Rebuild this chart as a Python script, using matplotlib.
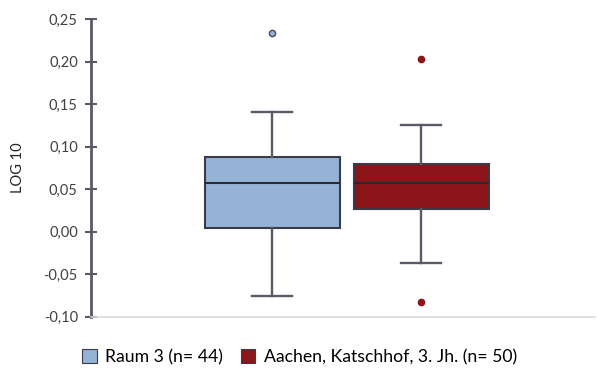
import matplotlib.pyplot as plt
from matplotlib.patches import Patch

plt.rcParams['font.family'] = ['Lato', 'DejaVu Sans']

groups = ['Raum 3 (n= 44)', 'Aachen, Katschhof, 3. Jh. (n= 50)']
q1 = [0.004, 0.027]
med = [0.057, 0.057]
q3 = [0.088, 0.080]
whislo = [-0.076, -0.037]
whishi = [0.141, 0.125]
fliers = [[0.234], [0.203, -0.083]]
colors = ['#95b3d7', '#8b1519']

yticks = [-0.10, -0.05, 0.00, 0.05, 0.10, 0.15, 0.20, 0.25]

stats = []
for i in range(len(groups)):
    stats.append(dict(q1=q1[i], med=med[i], q3=q3[i], whislo=whislo[i],
                      whishi=whishi[i], fliers=fliers[i], label=groups[i]))

fig = plt.figure(figsize=(5.97, 3.71), dpi=100)
ax = fig.add_axes([0.1524, 0.1464, 0.845, 0.8024])

edge = '#3b3b48'
bp = ax.bxp(stats, positions=[1, 2], widths=0.906, patch_artist=True,
            boxprops=dict(edgecolor=edge, linewidth=1.5),
            medianprops=dict(color='#2a2a33', linewidth=1.5),
            whiskerprops=dict(color='#5a5a66', linewidth=1.7),
            capprops=dict(color='#5a5a66', linewidth=1.7),
            capwidths=0.27)
for box, c in zip(bp['boxes'], colors):
    box.set_facecolor(c)
for fl, c in zip(bp['fliers'], colors):
    fl.set(marker='o', markersize=4.5, markerfacecolor=c,
           markeredgecolor='#4a4a58' if c == colors[0] else c, markeredgewidth=1)

ax.set_xlim(-0.215, 3.17)
ax.set_ylim(-0.10, 0.25)
ax.set_yticks(yticks)
ax.set_yticklabels([f'{t:.2f}'.replace('.', ',') for t in yticks],
                   fontsize=10.5, color='#404040')
ax.set_xticks([])
ax.tick_params(axis='y', direction='inout', length=9, width=1.5, color='#5a5a66', pad=5)
ax.set_ylabel('LOG 10', fontsize=10.5, color='#262626', labelpad=13)

for s in ['top', 'right']:
    ax.spines[s].set_visible(False)
ax.spines['left'].set_color('#5a5a66')
ax.spines['left'].set_linewidth(2)
ax.spines['bottom'].set_color('#d9d9d9')
ax.spines['bottom'].set_linewidth(1.2)

handles = [Patch(facecolor=c, edgecolor=edge, linewidth=0.8) for c in colors]
fig.legend(handles, groups, loc='center', bbox_to_anchor=(0.502, 0.038), ncol=2,
           frameon=False, fontsize=12.7, handlelength=0.8, handleheight=0.8,
           handletextpad=0.5, columnspacing=1.0)

fig.savefig('out.png', dpi=100)
